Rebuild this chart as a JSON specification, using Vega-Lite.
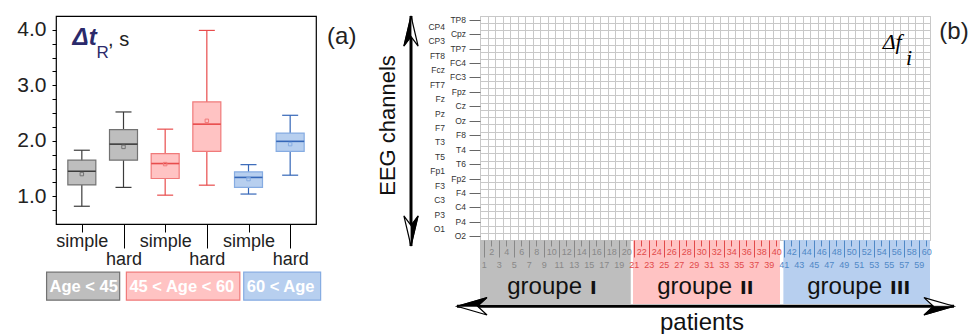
{
  "$schema": "https://vega.github.io/schema/vega-lite/v6.json",
  "padding": {"left": 16, "top": 13, "right": 0, "bottom": 0},
  "background": "white",
  "bounds": "flush",
  "spacing": 164,
  "config": {
    "font": "Liberation Sans",
    "legend": {"disable": true},
    "axis": {"labelFont": "Liberation Sans", "titleFont": "Liberation Sans"}
  },
  "datasets": {
    "boxes": [
      {"age": "Age < 45", "task": "simple", "slot": 1, "lo": 0.82, "q1": 1.205, "med": 1.45, "q3": 1.65, "hi": 1.83, "mean": 1.40},
      {"age": "Age < 45", "task": "hard", "slot": 2, "lo": 1.16, "q1": 1.65, "med": 1.94, "q3": 2.20, "hi": 2.52, "mean": 1.89},
      {"age": "45 < Age < 60", "task": "simple", "slot": 3, "lo": 1.02, "q1": 1.32, "med": 1.59, "q3": 1.77, "hi": 2.21, "mean": 1.58},
      {"age": "45 < Age < 60", "task": "hard", "slot": 4, "lo": 1.20, "q1": 1.81, "med": 2.30, "q3": 2.70, "hi": 3.99, "mean": 2.36},
      {"age": "60 < Age", "task": "simple", "slot": 5, "lo": 1.04, "q1": 1.16, "med": 1.34, "q3": 1.44, "hi": 1.57, "mean": 1.31},
      {"age": "60 < Age", "task": "hard", "slot": 6, "lo": 1.38, "q1": 1.81, "med": 1.99, "q3": 2.14, "hi": 2.46, "mean": 1.94}
    ],
    "legendA": [
      {"age": "Age < 45", "x0": 0.154, "x1": 1.908},
      {"age": "45 < Age < 60", "x0": 2.069, "x1": 4.792},
      {"age": "60 < Age", "x0": 4.885, "x1": 6.731}
    ],
    "patients": [
      {"patient": 1}, {"patient": 2}, {"patient": 3}, {"patient": 4}, {"patient": 5}, {"patient": 6}, {"patient": 7}, {"patient": 8}, {"patient": 9}, {"patient": 10},
      {"patient": 11}, {"patient": 12}, {"patient": 13}, {"patient": 14}, {"patient": 15}, {"patient": 16}, {"patient": 17}, {"patient": 18}, {"patient": 19}, {"patient": 20},
      {"patient": 21}, {"patient": 22}, {"patient": 23}, {"patient": 24}, {"patient": 25}, {"patient": 26}, {"patient": 27}, {"patient": 28}, {"patient": 29}, {"patient": 30},
      {"patient": 31}, {"patient": 32}, {"patient": 33}, {"patient": 34}, {"patient": 35}, {"patient": 36}, {"patient": 37}, {"patient": 38}, {"patient": 39}, {"patient": 40},
      {"patient": 41}, {"patient": 42}, {"patient": 43}, {"patient": 44}, {"patient": 45}, {"patient": 46}, {"patient": 47}, {"patient": 48}, {"patient": 49}, {"patient": 50},
      {"patient": 51}, {"patient": 52}, {"patient": 53}, {"patient": 54}, {"patient": 55}, {"patient": 56}, {"patient": 57}, {"patient": 58}, {"patient": 59}, {"patient": 60}
    ],
    "channels": [
      {"channel": "TP8", "row": 31}, {"channel": "CP4", "row": 30}, {"channel": "Cpz", "row": 29}, {"channel": "CP3", "row": 28},
      {"channel": "TP7", "row": 27}, {"channel": "FT8", "row": 26}, {"channel": "FC4", "row": 25}, {"channel": "Fcz", "row": 24},
      {"channel": "FC3", "row": 23}, {"channel": "FT7", "row": 22}, {"channel": "Fpz", "row": 21}, {"channel": "Fz", "row": 20},
      {"channel": "Cz", "row": 19}, {"channel": "Pz", "row": 18}, {"channel": "Oz", "row": 17}, {"channel": "F7", "row": 16},
      {"channel": "F8", "row": 15}, {"channel": "T3", "row": 14}, {"channel": "T4", "row": 13}, {"channel": "T5", "row": 12},
      {"channel": "T6", "row": 11}, {"channel": "Fp1", "row": 10}, {"channel": "Fp2", "row": 9}, {"channel": "F3", "row": 8},
      {"channel": "F4", "row": 7}, {"channel": "C3", "row": 6}, {"channel": "C4", "row": 5}, {"channel": "P3", "row": 4},
      {"channel": "P4", "row": 3}, {"channel": "O1", "row": 2}, {"channel": "O2", "row": 1}
    ],
    "groups": [
      {"group": "I", "start": 0.5, "end": 20.6, "mid": 10.5},
      {"group": "II", "start": 20.9, "end": 40.5, "mid": 30.5},
      {"group": "III", "start": 40.95, "end": 60.5, "mid": 50.5}
    ],
    "arrows": [
      {"axis": "patients", "x0": -2.57, "x1": 63.7, "y0": -8.675, "y1": -8.675, "lx": 30.1, "ly": -11.95},
      {"axis": "EEG channels", "x0": -8.7, "x1": -8.7, "y0": 31.5, "y1": -0.33, "lx": -11.83, "ly": 16.35}
    ]
  },
  "hconcat": [
    {
      "width": 260,
      "height": 208,
      "view": {"stroke": "#000", "strokeWidth": 1.2},
      "resolve": {"axis": {"x": "independent", "y": "independent"}},
      "layer": [
        {
          "data": {"name": "boxes"},
          "mark": {"type": "rule", "strokeWidth": 1.2},
          "encoding": {
            "x": {"field": "slot", "type": "quantitative", "scale": {"domain": [0.5, 6.5], "nice": false, "zero": false},
                  "axis": {"values": [1, 3, 5], "labelExpr": "'simple'", "tickSize": 8, "tickColor": "#000", "labelPadding": 0, "labelFontSize": 18, "labelColor": "#222", "domain": false, "grid": false, "title": null, "orient": "bottom", "labelFlush": false, "labelOverlap": false}},
            "y": {"field": "lo", "type": "quantitative", "scale": {"domain": [0.5, 4.25], "nice": false, "zero": false},
                  "axis": {"orient": "left", "values": [0.75, 1, 1.25, 1.5, 1.75, 2, 2.25, 2.5, 2.75, 3, 3.25, 3.5, 3.75, 4], "labelExpr": "datum.value == 1 ? '1.0' : datum.value == 2 ? '2.0' : datum.value == 3 ? '3.0' : datum.value == 4 ? '4.0' : ''", "tickSize": 4, "tickColor": "#000", "labelPadding": 6, "labelFontSize": 21, "labelColor": "#222", "domain": false, "grid": false, "title": null, "labelOverlap": false, "labelFlush": false}},
            "y2": {"field": "hi"},
            "color": {"field": "age", "type": "nominal", "scale": {"domain": ["Age < 45", "45 < Age < 60", "60 < Age"], "range": ["#3c3c3c", "#e84c4c", "#3567b8"]}}
          }
        },
        {
          "data": {"name": "boxes"},
          "mark": {"type": "tick", "orient": "horizontal", "size": 16, "thickness": 1.2, "opacity": 1},
          "encoding": {
            "x": {"field": "slot", "type": "quantitative", "scale": {"domain": [0.5, 6.5], "nice": false, "zero": false},
                  "axis": {"values": [2, 4, 6], "labelExpr": "'hard'", "tickSize": 24, "tickColor": "#000", "labelPadding": 2, "labelFontSize": 18, "labelColor": "#222", "domain": false, "grid": false, "title": null, "orient": "bottom", "labelFlush": false, "labelOverlap": false}},
            "y": {"field": "lo", "type": "quantitative", "scale": {"domain": [0.5, 4.25], "nice": false, "zero": false}, "axis": null},
            "color": {"field": "age", "type": "nominal", "scale": {"domain": ["Age < 45", "45 < Age < 60", "60 < Age"], "range": ["#3c3c3c", "#e84c4c", "#3567b8"]}}
          }
        },
        {
          "data": {"name": "boxes"},
          "mark": {"type": "tick", "orient": "horizontal", "size": 16, "thickness": 1.2, "opacity": 1},
          "encoding": {
            "x": {"field": "slot", "type": "quantitative", "scale": {"domain": [0.5, 6.5], "nice": false, "zero": false}, "axis": null},
            "y": {"field": "hi", "type": "quantitative", "scale": {"domain": [0.5, 4.25], "nice": false, "zero": false}, "axis": null},
            "color": {"field": "age", "type": "nominal", "scale": {"domain": ["Age < 45", "45 < Age < 60", "60 < Age"], "range": ["#3c3c3c", "#e84c4c", "#3567b8"]}}
          }
        },
        {
          "data": {"name": "boxes"},
          "mark": {"type": "bar", "size": 28, "orient": "vertical", "strokeWidth": 1.2, "opacity": 1},
          "encoding": {
            "x": {"field": "slot", "type": "quantitative", "scale": {"domain": [0.5, 6.5], "nice": false, "zero": false}, "axis": null},
            "y": {"field": "q1", "type": "quantitative", "scale": {"domain": [0.5, 4.25], "nice": false, "zero": false}, "axis": null},
            "y2": {"field": "q3"},
            "fill": {"field": "age", "type": "nominal", "scale": {"domain": ["Age < 45", "45 < Age < 60", "60 < Age"], "range": ["#bebebe", "#ffc3c3", "#b7cfef"]}},
            "stroke": {"field": "age", "type": "nominal", "scale": {"domain": ["Age < 45", "45 < Age < 60", "60 < Age"], "range": ["#727272", "#f07a7a", "#86ace2"]}}
          }
        },
        {
          "data": {"name": "boxes"},
          "mark": {"type": "tick", "orient": "horizontal", "size": 28, "thickness": 1.6, "opacity": 1},
          "encoding": {
            "x": {"field": "slot", "type": "quantitative", "scale": {"domain": [0.5, 6.5], "nice": false, "zero": false}, "axis": null},
            "y": {"field": "med", "type": "quantitative", "scale": {"domain": [0.5, 4.25], "nice": false, "zero": false}, "axis": null},
            "color": {"field": "age", "type": "nominal", "scale": {"domain": ["Age < 45", "45 < Age < 60", "60 < Age"], "range": ["#3c3c3c", "#e84c4c", "#3567b8"]}}
          }
        },
        {
          "data": {"name": "boxes"},
          "mark": {"type": "point", "shape": "square", "size": 12, "filled": false, "strokeWidth": 1, "opacity": 1},
          "encoding": {
            "x": {"field": "slot", "type": "quantitative", "scale": {"domain": [0.5, 6.5], "nice": false, "zero": false}, "axis": null},
            "y": {"field": "mean", "type": "quantitative", "scale": {"domain": [0.5, 4.25], "nice": false, "zero": false}, "axis": null},
            "stroke": {"field": "age", "type": "nominal", "scale": {"domain": ["Age < 45", "45 < Age < 60", "60 < Age"], "range": ["#727272", "#f07a7a", "#86ace2"]}}
          }
        },
        {
          "data": {"name": "legendA"},
          "mark": {"type": "rect", "strokeWidth": 1.2},
          "encoding": {
            "x": {"field": "x0", "type": "quantitative", "scale": {"domain": [0.5, 6.5], "nice": false, "zero": false}, "axis": null},
            "x2": {"field": "x1"},
            "y": {"datum": -0.368, "type": "quantitative", "scale": {"domain": [0.5, 4.25], "nice": false, "zero": false}, "axis": null},
            "y2": {"datum": -0.874},
            "fill": {"field": "age", "type": "nominal", "scale": {"domain": ["Age < 45", "45 < Age < 60", "60 < Age"], "range": ["#bebebe", "#ffc3c3", "#b7cfef"]}},
            "stroke": {"field": "age", "type": "nominal", "scale": {"domain": ["Age < 45", "45 < Age < 60", "60 < Age"], "range": ["#727272", "#f07a7a", "#86ace2"]}}
          }
        },
        {
          "data": {"name": "legendA"},
          "mark": {"type": "text", "align": "left", "baseline": "alphabetic", "dx": 3, "fontSize": 16.5, "fontWeight": "bold", "color": "#ffffff"},
          "encoding": {
            "x": {"field": "x0", "type": "quantitative", "scale": {"domain": [0.5, 6.5], "nice": false, "zero": false}, "axis": null},
            "y": {"datum": -0.72, "type": "quantitative", "scale": {"domain": [0.5, 4.25], "nice": false, "zero": false}, "axis": null},
            "text": {"field": "age"}
          }
        },
        {
          "data": {"values": [{"t": "Δt"}]},
          "mark": {"type": "text", "align": "left", "baseline": "alphabetic", "fontSize": 24, "fontWeight": "bold", "fontStyle": "italic", "color": "#2b2a6b"},
          "encoding": {
            "x": {"datum": 0.777, "type": "quantitative", "scale": {"domain": [0.5, 6.5], "nice": false, "zero": false}, "axis": null},
            "y": {"datum": 3.729, "type": "quantitative", "scale": {"domain": [0.5, 4.25], "nice": false, "zero": false}, "axis": null},
            "text": {"field": "t"}
          }
        },
        {
          "data": {"values": [{"t": "R"}]},
          "mark": {"type": "text", "align": "left", "baseline": "alphabetic", "fontSize": 17, "color": "#2b2a6b"},
          "encoding": {
            "x": {"datum": 1.354, "type": "quantitative", "scale": {"domain": [0.5, 6.5], "nice": false, "zero": false}, "axis": null},
            "y": {"datum": 3.487, "type": "quantitative", "scale": {"domain": [0.5, 4.25], "nice": false, "zero": false}, "axis": null},
            "text": {"field": "t"}
          }
        },
        {
          "data": {"values": [{"t": ", s"}]},
          "mark": {"type": "text", "align": "left", "baseline": "alphabetic", "fontSize": 20, "color": "#222"},
          "encoding": {
            "x": {"datum": 1.63, "type": "quantitative", "scale": {"domain": [0.5, 6.5], "nice": false, "zero": false}, "axis": null},
            "y": {"datum": 3.716, "type": "quantitative", "scale": {"domain": [0.5, 4.25], "nice": false, "zero": false}, "axis": null},
            "text": {"field": "t"}
          }
        },
        {
          "data": {"values": [{"t": "(a)"}]},
          "mark": {"type": "text", "align": "center", "baseline": "middle", "fontSize": 24, "color": "#222"},
          "encoding": {
            "x": {"datum": 7.238, "type": "quantitative", "scale": {"domain": [0.5, 6.5], "nice": false, "zero": false}, "axis": null},
            "y": {"datum": 3.865, "type": "quantitative", "scale": {"domain": [0.5, 4.25], "nice": false, "zero": false}, "axis": null},
            "text": {"field": "t"}
          }
        }
      ]
    },
    {
      "width": 450,
      "height": 224,
      "view": {"stroke": "#c8c8c8"},
      "resolve": {"axis": {"x": "independent", "y": "independent"}},
      "layer": [
        {
          "data": {"name": "patients"},
          "mark": {"type": "point", "opacity": 0},
          "encoding": {
            "x": {"field": "patient", "type": "quantitative", "scale": {"domain": [0.5, 60.5], "nice": false, "zero": false},
                  "axis": {"values": [0.5,1.5,2.5,3.5,4.5,5.5,6.5,7.5,8.5,9.5,10.5,11.5,12.5,13.5,14.5,15.5,16.5,17.5,18.5,19.5,20.5,21.5,22.5,23.5,24.5,25.5,26.5,27.5,28.5,29.5,30.5,31.5,32.5,33.5,34.5,35.5,36.5,37.5,38.5,39.5,40.5,41.5,42.5,43.5,44.5,45.5,46.5,47.5,48.5,49.5,50.5,51.5,52.5,53.5,54.5,55.5,56.5,57.5,58.5,59.5,60.5], "grid": true, "gridColor": "#c8c8c8", "gridWidth": 1, "ticks": false, "labels": false, "domain": false, "title": null, "orient": "bottom"}},
            "y": {"datum": 16, "type": "quantitative", "scale": {"domain": [0.5, 31.5], "nice": false, "zero": false}, "axis": null}
          }
        },
        {
          "data": {"name": "channels"},
          "mark": {"type": "point", "opacity": 0},
          "encoding": {
            "x": {"datum": 30, "type": "quantitative", "scale": {"domain": [0.5, 60.5], "nice": false, "zero": false}, "axis": null},
            "y": {"field": "row", "type": "quantitative", "scale": {"domain": [0.5, 31.5], "nice": false, "zero": false},
                  "axis": {"values": [0.5,1.5,2.5,3.5,4.5,5.5,6.5,7.5,8.5,9.5,10.5,11.5,12.5,13.5,14.5,15.5,16.5,17.5,18.5,19.5,20.5,21.5,22.5,23.5,24.5,25.5,26.5,27.5,28.5,29.5,30.5,31.5], "grid": true, "gridColor": "#c8c8c8", "gridWidth": 1, "ticks": false, "labels": false, "domain": false, "title": null, "orient": "left"}}
          }
        },
        {
          "data": {"name": "channels"},
          "mark": {"type": "point", "opacity": 0},
          "encoding": {
            "x": {"datum": 30, "type": "quantitative", "scale": {"domain": [0.5, 60.5], "nice": false, "zero": false}, "axis": null},
            "y": {"field": "row", "type": "quantitative", "scale": {"domain": [0.5, 31.5], "nice": false, "zero": false},
                  "axis": {"values": [1,3,5,7,9,11,13,15,17,19,21,23,25,27,29,31], "tickSize": 11, "tickColor": "#666", "tickWidth": 1, "labels": false, "domain": false, "grid": false, "title": null, "orient": "left"}}
          }
        },
        {
          "data": {"name": "patients"},
          "mark": {"type": "point", "opacity": 0},
          "encoding": {
            "x": {"field": "patient", "type": "quantitative", "scale": {"domain": [0.5, 60.5], "nice": false, "zero": false},
                  "axis": {"values": [2,4,6,8,10,12,14,16,18,20,22,24,26,28,30,32,34,36,38,40,42,44,46,48,50,52,54,56,58,60], "tickSize": 6, "tickWidth": 1, "labelPadding": 1, "labelFontSize": 9, "labelFlush": false, "labelOverlap": false, "grid": false, "domain": false, "title": null, "orient": "bottom", "zindex": 1,
                           "labelColor": {"condition": [{"test": "datum.value <= 20", "value": "#888888"}, {"test": "datum.value <= 40", "value": "#e24a4a"}], "value": "#4f88c6"},
                           "tickColor": {"condition": [{"test": "datum.value <= 20", "value": "#888888"}, {"test": "datum.value <= 40", "value": "#e24a4a"}], "value": "#4f88c6"}}},
            "y": {"datum": 16, "type": "quantitative", "scale": {"domain": [0.5, 31.5], "nice": false, "zero": false}, "axis": null}
          }
        },
        {
          "data": {"name": "patients"},
          "mark": {"type": "point", "opacity": 0},
          "encoding": {
            "x": {"field": "patient", "type": "quantitative", "scale": {"domain": [0.5, 60.5], "nice": false, "zero": false},
                  "axis": {"values": [1,3,5,7,9,11,13,15,17,19,21,23,25,27,29,31,33,35,37,39,41,43,45,47,49,51,53,55,57,59], "tickSize": 17, "tickWidth": 1, "labelPadding": 3, "labelFontSize": 9, "labelFlush": false, "labelOverlap": false, "grid": false, "domain": false, "title": null, "orient": "bottom", "zindex": 1,
                           "labelColor": {"condition": [{"test": "datum.value <= 20", "value": "#888888"}, {"test": "datum.value <= 40", "value": "#e24a4a"}], "value": "#4f88c6"},
                           "tickColor": {"condition": [{"test": "datum.value <= 20", "value": "#888888"}, {"test": "datum.value <= 40", "value": "#e24a4a"}], "value": "#4f88c6"}}},
            "y": {"datum": 16, "type": "quantitative", "scale": {"domain": [0.5, 31.5], "nice": false, "zero": false}, "axis": null}
          }
        },
        {
          "data": {"name": "channels"},
          "transform": [{"filter": "datum.row % 2 == 1"}],
          "mark": {"type": "text", "align": "right", "baseline": "middle", "dx": -14, "fontSize": 8.5, "color": "#333"},
          "encoding": {
            "x": {"datum": 0.5, "type": "quantitative", "scale": {"domain": [0.5, 60.5], "nice": false, "zero": false}, "axis": null},
            "y": {"field": "row", "type": "quantitative", "scale": {"domain": [0.5, 31.5], "nice": false, "zero": false}, "axis": null},
            "text": {"field": "channel"}
          }
        },
        {
          "data": {"name": "channels"},
          "transform": [{"filter": "datum.row % 2 == 0"}],
          "mark": {"type": "text", "align": "right", "baseline": "middle", "dx": -35, "fontSize": 8.5, "color": "#333"},
          "encoding": {
            "x": {"datum": 0.5, "type": "quantitative", "scale": {"domain": [0.5, 60.5], "nice": false, "zero": false}, "axis": null},
            "y": {"field": "row", "type": "quantitative", "scale": {"domain": [0.5, 31.5], "nice": false, "zero": false}, "axis": null},
            "text": {"field": "channel"}
          }
        },
        {
          "data": {"name": "groups"},
          "mark": {"type": "rect"},
          "encoding": {
            "x": {"field": "start", "type": "quantitative", "scale": {"domain": [0.5, 60.5], "nice": false, "zero": false}, "axis": null},
            "x2": {"field": "end"},
            "y": {"datum": 0.5, "type": "quantitative", "scale": {"domain": [0.5, 31.5], "nice": false, "zero": false}, "axis": null},
            "y2": {"datum": -8.357},
            "fill": {"field": "group", "type": "nominal", "scale": {"domain": ["I", "II", "III"], "range": ["#ececec", "#fbdcd5", "#e6f0fb"]}}
          }
        },
        {
          "data": {"name": "groups"},
          "mark": {"type": "text", "align": "right", "baseline": "alphabetic", "dx": 27, "fontSize": 24, "color": "#111"},
          "encoding": {
            "x": {"field": "mid", "type": "quantitative", "scale": {"domain": [0.5, 60.5], "nice": false, "zero": false}, "axis": null},
            "y": {"datum": -6.93, "type": "quantitative", "scale": {"domain": [0.5, 31.5], "nice": false, "zero": false}, "axis": null},
            "text": {"value": "groupe"}
          }
        },
        {
          "data": {"name": "groups"},
          "mark": {"type": "text", "align": "left", "baseline": "alphabetic", "dx": 35, "fontSize": 18, "font": "DejaVu Sans", "fontWeight": "bold", "color": "#111"},
          "encoding": {
            "x": {"field": "mid", "type": "quantitative", "scale": {"domain": [0.5, 60.5], "nice": false, "zero": false}, "axis": null},
            "y": {"datum": -6.93, "type": "quantitative", "scale": {"domain": [0.5, 31.5], "nice": false, "zero": false}, "axis": null},
            "text": {"field": "group"}
          }
        },
        {
          "data": {"name": "arrows"},
          "mark": {"type": "rule", "strokeWidth": 3, "color": "#000"},
          "encoding": {
            "x": {"field": "x0", "type": "quantitative", "scale": {"domain": [0.5, 60.5], "nice": false, "zero": false}, "axis": null},
            "x2": {"field": "x1"},
            "y": {"field": "y0", "type": "quantitative", "scale": {"domain": [0.5, 31.5], "nice": false, "zero": false}, "axis": null},
            "y2": {"field": "y1"}
          }
        },
        {
          "data": {"name": "arrows"},
          "transform": [{"filter": "datum.axis == 'patients'"}],
          "mark": {"type": "point", "shape": "M0,0L1.9,-0.55L1.3,0L1.9,0.55Z", "size": 1000, "filled": true, "fill": "#ffffff", "stroke": "#000", "strokeWidth": 1.2, "opacity": 1},
          "encoding": {
            "x": {"field": "x0", "type": "quantitative", "scale": {"domain": [0.5, 60.5], "nice": false, "zero": false}, "axis": null},
            "y": {"field": "y0", "type": "quantitative", "scale": {"domain": [0.5, 31.5], "nice": false, "zero": false}, "axis": null}
          }
        },
        {
          "data": {"name": "arrows"},
          "transform": [{"filter": "datum.axis == 'patients'"}],
          "mark": {"type": "point", "shape": "M0,0L1.9,-0.55L1.3,0Z", "size": 1000, "filled": true, "fill": "#000", "stroke": "#000", "strokeWidth": 0.8, "opacity": 1},
          "encoding": {
            "x": {"field": "x0", "type": "quantitative", "scale": {"domain": [0.5, 60.5], "nice": false, "zero": false}, "axis": null},
            "y": {"field": "y0", "type": "quantitative", "scale": {"domain": [0.5, 31.5], "nice": false, "zero": false}, "axis": null}
          }
        },
        {
          "data": {"name": "arrows"},
          "transform": [{"filter": "datum.axis == 'patients'"}],
          "mark": {"type": "point", "shape": "M0,0L-1.9,-0.55L-1.3,0L-1.9,0.55Z", "size": 1000, "filled": true, "fill": "#ffffff", "stroke": "#000", "strokeWidth": 1.2, "opacity": 1},
          "encoding": {
            "x": {"field": "x1", "type": "quantitative", "scale": {"domain": [0.5, 60.5], "nice": false, "zero": false}, "axis": null},
            "y": {"field": "y1", "type": "quantitative", "scale": {"domain": [0.5, 31.5], "nice": false, "zero": false}, "axis": null}
          }
        },
        {
          "data": {"name": "arrows"},
          "transform": [{"filter": "datum.axis == 'patients'"}],
          "mark": {"type": "point", "shape": "M0,0L-1.3,0L-1.9,0.55Z", "size": 1000, "filled": true, "fill": "#000", "stroke": "#000", "strokeWidth": 0.8, "opacity": 1},
          "encoding": {
            "x": {"field": "x1", "type": "quantitative", "scale": {"domain": [0.5, 60.5], "nice": false, "zero": false}, "axis": null},
            "y": {"field": "y1", "type": "quantitative", "scale": {"domain": [0.5, 31.5], "nice": false, "zero": false}, "axis": null}
          }
        },
        {
          "data": {"name": "arrows"},
          "transform": [{"filter": "datum.axis == 'EEG channels'"}],
          "mark": {"type": "point", "shape": "M0,0L-0.45,1.9L0,1.3L0.45,1.9Z", "size": 1000, "filled": true, "fill": "#ffffff", "stroke": "#000", "strokeWidth": 1.2, "opacity": 1},
          "encoding": {
            "x": {"field": "x0", "type": "quantitative", "scale": {"domain": [0.5, 60.5], "nice": false, "zero": false}, "axis": null},
            "y": {"field": "y0", "type": "quantitative", "scale": {"domain": [0.5, 31.5], "nice": false, "zero": false}, "axis": null}
          }
        },
        {
          "data": {"name": "arrows"},
          "transform": [{"filter": "datum.axis == 'EEG channels'"}],
          "mark": {"type": "point", "shape": "M0,0L-0.45,1.9L0,1.3Z", "size": 1000, "filled": true, "fill": "#000", "stroke": "#000", "strokeWidth": 0.8, "opacity": 1},
          "encoding": {
            "x": {"field": "x0", "type": "quantitative", "scale": {"domain": [0.5, 60.5], "nice": false, "zero": false}, "axis": null},
            "y": {"field": "y0", "type": "quantitative", "scale": {"domain": [0.5, 31.5], "nice": false, "zero": false}, "axis": null}
          }
        },
        {
          "data": {"name": "arrows"},
          "transform": [{"filter": "datum.axis == 'EEG channels'"}],
          "mark": {"type": "point", "shape": "M0,0L-0.45,-1.9L0,-1.3L0.45,-1.9Z", "size": 1000, "filled": true, "fill": "#ffffff", "stroke": "#000", "strokeWidth": 1.2, "opacity": 1},
          "encoding": {
            "x": {"field": "x1", "type": "quantitative", "scale": {"domain": [0.5, 60.5], "nice": false, "zero": false}, "axis": null},
            "y": {"field": "y1", "type": "quantitative", "scale": {"domain": [0.5, 31.5], "nice": false, "zero": false}, "axis": null}
          }
        },
        {
          "data": {"name": "arrows"},
          "transform": [{"filter": "datum.axis == 'EEG channels'"}],
          "mark": {"type": "point", "shape": "M0,0L0,-1.3L0.45,-1.9Z", "size": 1000, "filled": true, "fill": "#000", "stroke": "#000", "strokeWidth": 0.8, "opacity": 1},
          "encoding": {
            "x": {"field": "x1", "type": "quantitative", "scale": {"domain": [0.5, 60.5], "nice": false, "zero": false}, "axis": null},
            "y": {"field": "y1", "type": "quantitative", "scale": {"domain": [0.5, 31.5], "nice": false, "zero": false}, "axis": null}
          }
        },
        {
          "data": {"name": "arrows"},
          "transform": [{"filter": "datum.axis == 'patients'"}],
          "mark": {"type": "text", "align": "center", "baseline": "alphabetic", "fontSize": 24, "color": "#111"},
          "encoding": {
            "x": {"field": "lx", "type": "quantitative", "scale": {"domain": [0.5, 60.5], "nice": false, "zero": false}, "axis": null},
            "y": {"field": "ly", "type": "quantitative", "scale": {"domain": [0.5, 31.5], "nice": false, "zero": false}, "axis": null},
            "text": {"field": "axis"}
          }
        },
        {
          "data": {"name": "arrows"},
          "transform": [{"filter": "datum.axis == 'EEG channels'"}],
          "mark": {"type": "text", "align": "center", "baseline": "middle", "angle": 270, "fontSize": 22, "color": "#111"},
          "encoding": {
            "x": {"field": "lx", "type": "quantitative", "scale": {"domain": [0.5, 60.5], "nice": false, "zero": false}, "axis": null},
            "y": {"field": "ly", "type": "quantitative", "scale": {"domain": [0.5, 31.5], "nice": false, "zero": false}, "axis": null},
            "text": {"field": "axis"}
          }
        },
        {
          "data": {"values": [{"t": "Δf"}]},
          "mark": {"type": "text", "align": "left", "baseline": "alphabetic", "fontSize": 22, "font": "Liberation Serif", "fontStyle": "italic", "color": "#000"},
          "encoding": {
            "x": {"datum": 54.19, "type": "quantitative", "scale": {"domain": [0.5, 60.5], "nice": false, "zero": false}, "axis": null},
            "y": {"datum": 26.97, "type": "quantitative", "scale": {"domain": [0.5, 31.5], "nice": false, "zero": false}, "axis": null},
            "text": {"field": "t"}
          }
        },
        {
          "data": {"values": [{"t": "i"}]},
          "mark": {"type": "text", "align": "left", "baseline": "alphabetic", "fontSize": 22, "font": "Liberation Serif", "fontStyle": "italic", "color": "#000"},
          "encoding": {
            "x": {"datum": 57.3, "type": "quantitative", "scale": {"domain": [0.5, 60.5], "nice": false, "zero": false}, "axis": null},
            "y": {"datum": 24.68, "type": "quantitative", "scale": {"domain": [0.5, 31.5], "nice": false, "zero": false}, "axis": null},
            "text": {"field": "t"}
          }
        },
        {
          "data": {"values": [{"t": "(b)"}]},
          "mark": {"type": "text", "align": "center", "baseline": "middle", "fontSize": 24, "color": "#222"},
          "encoding": {
            "x": {"datum": 63.7, "type": "quantitative", "scale": {"domain": [0.5, 60.5], "nice": false, "zero": false}, "axis": null},
            "y": {"datum": 29.22, "type": "quantitative", "scale": {"domain": [0.5, 31.5], "nice": false, "zero": false}, "axis": null},
            "text": {"field": "t"}
          }
        }
      ]
    }
  ]
}
